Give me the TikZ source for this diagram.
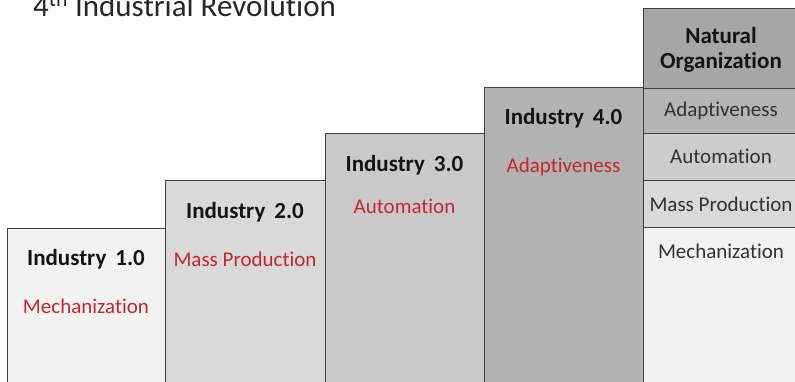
\documentclass[tikz,border=0pt]{standalone}
\usepackage{fontspec}
\setmainfont{Carlito}[Ligatures=NoCommon]
\definecolor{redt}{RGB}{192,40,45}
\definecolor{edge}{RGB}{64,64,64}
\definecolor{cA}{RGB}{242,242,242}
\definecolor{cB}{RGB}{217,217,217}
\definecolor{cC}{RGB}{201,201,201}
\definecolor{cD}{RGB}{178,178,178}
\definecolor{cH}{RGB}{166,166,166}
\definecolor{cE}{RGB}{180,180,180}
\definecolor{cF}{RGB}{204,204,204}
\definecolor{headtext}{RGB}{20,20,20}
\definecolor{coltext}{RGB}{50,50,50}
\tikzset{
  stepbox/.style={draw=edge, line width=1pt, rectangle, anchor=north west, inner sep=0pt},
  head/.style={anchor=base, font=\fontsize{23}{27}\selectfont\bfseries, text=headtext},
  sub/.style={anchor=base, font=\fontsize{21}{25}\selectfont, text=redt},
  coltxt/.style={anchor=base, font=\fontsize{21}{25}\selectfont, text=coltext},
}
\begin{document}
\begin{tikzpicture}[x=1pt,y=-1pt]
\useasboundingbox (0,0) rectangle (795,381);
\clip (0,0) rectangle (795,381);
\fill[white] (0,0) rectangle (795,381);
% title
\node[anchor=base west, inner sep=0pt, text=black!85, font=\fontsize{31}{35}\selectfont] (title) at (33,16) {4\textsuperscript{th} Industrial Revolution};
% steps
\node[stepbox, fill=cA, minimum width=158pt, minimum height=170pt] (i1) at (7,228) {};
\node[stepbox, fill=cB, minimum width=160pt, minimum height=215pt] (i2) at (165,180) {};
\node[stepbox, fill=cC, minimum width=159pt, minimum height=262pt] (i3) at (325,133) {};
\node[stepbox, fill=cD, minimum width=159pt, minimum height=308pt] (i4) at (484,87) {};
% right column
\node[stepbox, fill=cH, minimum width=170pt, minimum height=80pt] (nh) at (643,8) {};
\node[stepbox, fill=cE, minimum width=170pt, minimum height=45pt] (na) at (643,88) {};
\node[stepbox, fill=cF, minimum width=170pt, minimum height=47pt] (nb) at (643,133) {};
\node[stepbox, fill=cB, minimum width=170pt, minimum height=47pt] (nc) at (643,180) {};
\node[stepbox, fill=cA, minimum width=170pt, minimum height=170pt] (nd) at (643,227) {};
% labels
\node[head] (h1) at (86,265) {Industry\, 1.0};
\node[sub] (s1) at (86,313) {Mechanization};
\node[head] (h2) at (245,218) {Industry\, 2.0};
\node[sub] (s2) at (245,266) {Mass Production};
\node[head] (h3) at (404.5,171) {Industry\, 3.0};
\node[sub] (s3) at (404.5,213) {Automation};
\node[head] (h4) at (563.5,124) {Industry\, 4.0};
\node[sub] (s4) at (563.5,172) {Adaptiveness};
\node[head] (nh1) at (721,43) {Natural};
\node[head] (nh2) at (721,68) {Organization};
\node[coltxt] (t1) at (721,116) {Adaptiveness};
\node[coltxt] (t2) at (721,163) {Automation};
\node[coltxt] (t3) at (721,211) {Mass Production};
\node[coltxt] (t4) at (721,258) {Mechanization};
\end{tikzpicture}
\end{document}
